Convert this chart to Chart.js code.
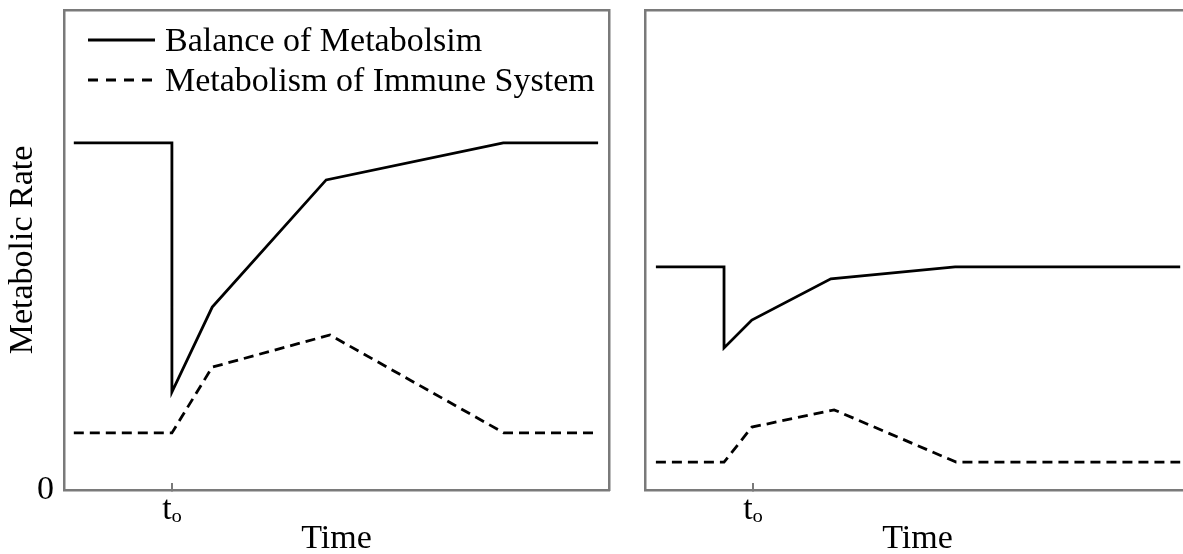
<!DOCTYPE html>
<html>
<head>
<meta charset="utf-8">
<script src="https://cdn.jsdelivr.net/npm/chart.js@4.4.1/dist/chart.umd.min.js"></script>
<style>
  html, body { margin: 0; padding: 0; background: #ffffff; overflow: hidden; }
  #wrap { position: relative; width: 1183px; height: 554px; overflow: hidden; background: #fff; }
  .pane { position: absolute; top: 0; width: 620px; height: 554px; }
  #leftPane { left: 0; }
  #rightPane { left: 581px; }
  #legend { position: absolute; left: 0; top: 0; width: 620px; height: 110px; pointer-events: none; }
  .lgRow { position: absolute; left: 88px; height: 40px; line-height: 40px; white-space: nowrap;
           font-family: 'Liberation Serif', 'Times New Roman', serif; font-size: 34px; color: #000; }
  .lgRow svg { position: absolute; left: 0; top: 0; }
  .lgRow span { position: absolute; left: 77px; top: 0; }
</style>
</head>
<body>
<div id="wrap">
  <div class="pane" id="leftPane"><canvas id="leftChart" width="620" height="554"></canvas></div>
  <div class="pane" id="rightPane"><canvas id="rightChart" width="620" height="554"></canvas></div>
  <div id="legend"></div>
</div>
<script>
// ---- data (time in arbitrary units 0..100, metabolic rate 0..100) ----
const seriesNames = ['Balance of Metabolsim', 'Metabolism of Immune System'];

const leftTimeBalance  = [1.8, 19.8, 19.8, 27.2, 48.1, 80.6, 98.0];
const leftRateBalance  = [72.3, 72.3, 20.4, 38.1, 64.6, 72.3, 72.3];
const leftTimeImmune   = [1.8, 19.8, 27.2, 48.8, 80.7, 98.0];
const leftRateImmune   = [11.9, 11.9, 25.6, 32.3, 11.9, 11.9];

const rightTimeBalance = [2.0, 14.5, 14.5, 19.6, 34.1, 56.9, 98.2];
const rightRateBalance = [46.5, 46.5, 29.6, 35.4, 44.0, 46.5, 46.5];
const rightTimeImmune  = [2.0, 14.5, 19.6, 34.7, 57.1, 98.2];
const rightRateImmune  = [5.8, 5.8, 13.1, 16.7, 5.8, 5.8];

const xTickValues = [19.8];
const xTickLabels = ['t\u2092'];
const yTickValues = [0];
const yTickLabels = ['0'];
const xTitle = 'Time';
const yTitle = 'Metabolic Rate';

// ---- helpers ----
const FONT = "'Liberation Serif', 'Times New Roman', serif";
const BOX = '#7a7a7a';
const LW = 2.8;
function pts(xs, ys) { return xs.map((x, i) => ({ x: x, y: ys[i] })); }

function makeChart(id, tb, rb, ti, ri, showLeftLabels) {
  const ctx = document.getElementById(id);
  return new Chart(ctx, {
    type: 'line',
    data: {
      datasets: [
        { label: seriesNames[0], data: pts(tb, rb), borderColor: '#000', borderWidth: LW,
          pointRadius: 0, tension: 0, fill: false },
        { label: seriesNames[1], data: pts(ti, ri), borderColor: '#000', borderWidth: LW,
          borderDash: [10, 6], pointRadius: 0, tension: 0, fill: false }
      ]
    },
    options: {
      responsive: false,
      animation: false,
      devicePixelRatio: 1,
      layout: { padding: { top: 10, right: 11, left: 0, bottom: 0 } },
      plugins: { legend: { display: false }, tooltip: { enabled: false } },
      scales: {
        x: {
          type: 'linear', position: 'bottom', min: 0, max: 100,
          afterBuildTicks: (s) => { s.ticks = xTickValues.map(v => ({ value: v })); },
          afterFit: (s) => { s.height = 64; s.paddingLeft = 0; s.paddingRight = 0; },
          ticks: {
            autoSkip: false, maxRotation: 0, padding: 10, color: '#000',
            font: { family: FONT, size: 34, lineHeight: 1 },
            callback: (v) => { const i = xTickValues.indexOf(v); return i >= 0 ? xTickLabels[i] : ''; }
          },
          grid: { display: true, drawOnChartArea: false, drawTicks: true, tickLength: -7, color: BOX, lineWidth: 2 },
          border: { display: true, color: BOX, width: 2.5 },
          title: { display: true, text: xTitle, color: '#000', padding: 0,
                   font: { family: FONT, size: 34, lineHeight: 0.9 } }
        },
        y: {
          type: 'linear', position: 'left', min: 0, max: 100,
          afterBuildTicks: (s) => { s.ticks = yTickValues.map(v => ({ value: v })); },
          afterFit: (s) => { s.width = 64; s.paddingTop = 0; s.paddingBottom = 0; },
          ticks: {
            display: showLeftLabels, padding: 10, color: '#000',
            font: { family: FONT, size: 34, lineHeight: 1 },
            callback: (v) => { const i = yTickValues.indexOf(v); return i >= 0 ? yTickLabels[i] : ''; }
          },
          grid: { display: false, drawTicks: false },
          border: { display: true, color: BOX, width: 2.5 },
          title: { display: showLeftLabels, text: yTitle, color: '#000', padding: { top: 6.5, bottom: 0 },
                   font: { family: FONT, size: 34, lineHeight: 1 } }
        },
        xTop: {
          type: 'linear', position: 'top', min: 0, max: 100,
          afterFit: (s) => { s.height = 0; },
          ticks: { display: false },
          grid: { display: false, drawTicks: false },
          border: { display: true, color: BOX, width: 2.5 }
        },
        yRight: {
          type: 'linear', position: 'right', min: 0, max: 100,
          afterFit: (s) => { s.width = 0; },
          ticks: { display: false },
          grid: { display: false, drawTicks: false },
          border: { display: true, color: BOX, width: 2.5 }
        }
      }
    }
  });
}

const leftChart = makeChart('leftChart', leftTimeBalance, leftRateBalance, leftTimeImmune, leftRateImmune, true);
makeChart('rightChart', rightTimeBalance, rightRateBalance, rightTimeImmune, rightRateImmune, false);

// ---- HTML legend built from the left chart's datasets ----
(function buildLegend(chart) {
  const host = document.getElementById('legend');
  const NS = 'http://www.w3.org/2000/svg';
  chart.data.datasets.forEach((ds, i) => {
    const row = document.createElement('div');
    row.className = 'lgRow';
    row.style.top = (20 + i * 40) + 'px';
    const svg = document.createElementNS(NS, 'svg');
    svg.setAttribute('width', '67'); svg.setAttribute('height', '40');
    const ln = document.createElementNS(NS, 'line');
    ln.setAttribute('x1', '0'); ln.setAttribute('x2', '67');
    ln.setAttribute('y1', '20'); ln.setAttribute('y2', '20');
    ln.setAttribute('stroke', ds.borderColor);
    ln.setAttribute('stroke-width', String(ds.borderWidth));
    if (ds.borderDash) ln.setAttribute('stroke-dasharray', '10 8');
    svg.appendChild(ln);
    const sp = document.createElement('span');
    sp.textContent = ds.label;
    row.appendChild(svg); row.appendChild(sp);
    host.appendChild(row);
  });
})(leftChart);
</script>
</body>
</html>
